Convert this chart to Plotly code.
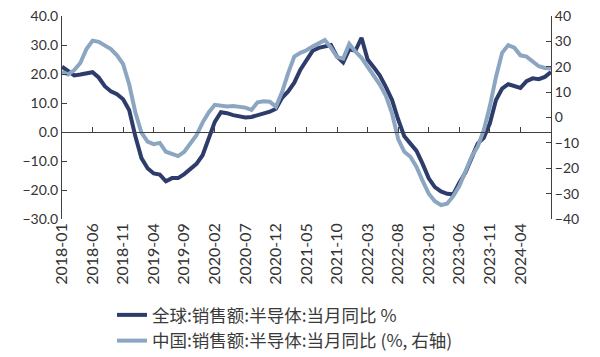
import plotly.graph_objects as go

months = []
for y in range(2018, 2025):
    for m in range(1, 13):
        months.append(f"{y}-{m:02d}")
months = months[:81]  # 2018-01 .. 2024-09

global_yoy = [22.5, 20.8, 19.5, 19.8, 20.3, 20.6, 18.8, 15.8, 14.0, 13.0, 11.3, 7.5,
              -1.5, -9.0, -12.5, -14.3, -14.7, -17.0, -15.9, -15.9, -14.5, -12.8, -11.0, -8.0,
              -2.5, 3.5, 6.8, 6.5, 5.8, 5.3, 5.0, 5.2, 5.8, 6.2, 7.0, 8.0,
              11.8, 14.0, 17.0, 21.5, 25.0, 28.0, 29.0, 29.5, 30.0, 26.0, 24.0, 28.5,
              28.0, 32.5, 25.0, 22.3, 19.5, 15.5, 11.0, 4.3, -1.5, -4.0, -6.5, -11.0,
              -16.0, -19.0, -20.5, -21.3, -21.5, -17.5, -14.0, -9.0, -4.0, -2.0, 3.0, 11.0,
              15.0, 16.5, 15.8, 15.2, 17.5, 18.5, 18.2, 19.0, 20.7]

china_yoy = [18.0, 17.0, 18.7, 21.5, 27.0, 30.3, 29.8, 28.5, 27.0, 24.5, 21.0, 13.0,
             2.0, -6.0, -9.5, -10.5, -10.0, -13.5, -14.2, -15.2, -13.5, -10.5, -7.0, -2.0,
             2.0, 5.0, 4.5, 4.3, 4.5, 4.2, 3.9, 3.0, 6.0, 6.4, 6.2, 4.2,
             10.0, 17.5, 24.0, 25.5, 26.5, 28.0, 29.2, 30.5, 27.5, 23.8, 23.2, 29.0,
             26.0, 23.5, 20.0, 16.7, 13.0, 8.5, 1.5, -8.5, -13.5, -15.5, -19.5, -25.0,
             -30.0, -33.0, -34.5, -34.0, -31.0, -27.0, -21.3, -15.5, -11.5, -5.0, 4.5, 16.0,
             25.5, 28.5, 27.5, 24.5, 24.0, 22.0, 20.2, 19.5, 19.3]

left_ticks = [-30, -20, -10, 0, 10, 20, 30, 40]
right_ticks = [-40, -30, -20, -10, 0, 10, 20, 30, 40]

name_global = "全球:销售额:半导体:当月同比 %"
name_china = "中国:销售额:半导体:当月同比 (%, 右轴)"

idx = list(range(len(months)))
label_idx = [i for i in idx if i % 5 == 0 and i <= 75]

DARK = "#2D3C6A"
LIGHT = "#8CA6C2"
AX = "#404040"

fig = go.Figure()
fig.add_trace(go.Scatter(x=idx, y=china_yoy, name=name_china, yaxis="y2",
                         mode="lines", line=dict(color=LIGHT, width=4), legendrank=2))
fig.add_trace(go.Scatter(x=idx, y=global_yoy, name=name_global, yaxis="y",
                         mode="lines", line=dict(color=DARK, width=4), legendrank=1))
# helper invisible trace for the zero-crossing category axis
fig.add_trace(go.Scatter(x=idx, y=global_yoy, xaxis="x2", yaxis="y", mode="lines",
                         line=dict(width=0), showlegend=False, hoverinfo="skip"))

tickfont = dict(family="Lato, Liberation Sans, sans-serif", size=14, color="#333333")

fig.update_layout(
    width=600, height=357,
    margin=dict(l=62, r=49, t=16, b=138, autoexpand=False),
    paper_bgcolor="white", plot_bgcolor="white",
    showlegend=True,
    legend=dict(xref="container", yref="container", x=112/600, y=1 - 297/357,
                xanchor="left", yanchor="top", orientation="v",
                font=dict(family="Noto Sans CJK SC", size=17.5, color="#3a3a3a"),
                tracegroupgap=0, bgcolor="rgba(0,0,0,0)"),
    xaxis=dict(range=[0, 80], tickmode="array", tickvals=label_idx,
               ticktext=[months[i] for i in label_idx], tickangle=-90,
               showline=False, ticks="", showgrid=False, zeroline=False, automargin=False,
               tickfont=dict(family="Lato, Liberation Sans, sans-serif", size=16, color="#333333")),
    xaxis2=dict(range=[0, 80], overlaying="x", matches="x", anchor="free",
                position=30/70, showline=True, linecolor=AX, linewidth=1,
                tickmode="array", tickvals=[i for i in idx if i % 5 == 0],
                ticks="inside", ticklen=5, tickcolor=AX, showticklabels=False,
                showgrid=False, zeroline=False),
    yaxis=dict(range=[-30, 40], tickvals=left_ticks, tickformat=".1f", automargin=False,
               showline=True, linecolor=AX, linewidth=1, ticks="inside", ticklen=5,
               tickcolor=AX, showgrid=False, zeroline=False, tickfont=tickfont),
    yaxis2=dict(range=[-40, 40], tickvals=right_ticks, overlaying="y", side="right",
                automargin=False,
                showline=True, linecolor=AX, linewidth=1, ticks="inside", ticklen=5,
                tickcolor=AX, showgrid=False, zeroline=False, tickfont=tickfont),
)

fig.write_html("out.html", config={"displayModeBar": False},
               post_script="document.body.style.margin='0';")
